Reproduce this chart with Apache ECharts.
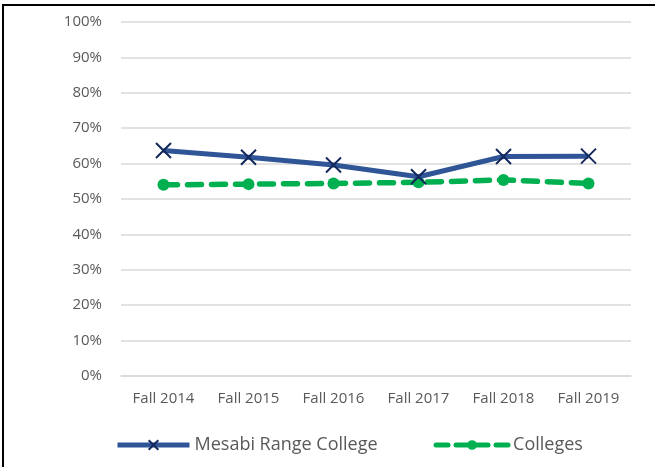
<!DOCTYPE html>
<html>
<head>
<meta charset="utf-8">
<script src="https://cdn.jsdelivr.net/npm/echarts@6/dist/echarts.min.js"></script>
<style>
  html, body { margin: 0; padding: 0; background: #fff; }
  #main { width: 655px; height: 467px; }
</style>
</head>
<body>
<div id="main"></div>
<script>
// categories and series values
var years = ['Fall 2014', 'Fall 2015', 'Fall 2016', 'Fall 2017', 'Fall 2018', 'Fall 2019'];
var mesabi = [0.637, 0.618, 0.596, 0.563, 0.620, 0.621];
var colleges = [0.540, 0.542, 0.544, 0.547, 0.554, 0.544];

var myChart = echarts.init(document.getElementById('main'));
var font = 'Open Sans';

var option = {
    animation: false,
    backgroundColor: '#fff',
    graphic: [{
        type: 'rect',
        shape: { x: 3, y: 5, width: 700, height: 500 },
        style: { fill: 'none', stroke: '#000', lineWidth: 2 }
    }],
    grid: { left: 121, right: 24, top: 22, bottom: 91 },
    legend: {
        bottom: 8,
        left: 110,
        itemWidth: 72,
        itemHeight: 12,
        itemGap: 56,
        itemTextGap: 7,
        textStyle: { fontFamily: font, fontSize: 18, color: '#595959' },
        data: [{
            name: 'Mesabi Range College',
            lineStyle: { width: 5 }
        }, {
            name: 'Colleges',
            lineStyle: { width: 5, type: [12, 8] }
        }]
    },
    xAxis: {
        type: 'category',
        data: years,
        axisTick: { show: false },
        axisLine: { lineStyle: { color: '#d9d9d9', width: 1.5 } },
        axisLabel: { fontFamily: font, fontSize: 15, color: '#595959', margin: 15 }
    },
    yAxis: {
        type: 'value',
        min: 0,
        max: 1,
        interval: 0.1,
        axisLine: { show: false },
        axisTick: { show: false },
        splitLine: { lineStyle: { color: '#d9d9d9', width: 1.5 } },
        axisLabel: {
            fontFamily: font, fontSize: 15, color: '#595959', margin: 19,
            formatter: function (v) { return Math.round(v * 100) + '%'; }
        }
    },
    series: [{
        name: 'Mesabi Range College',
        type: 'line',
        data: mesabi,
        symbol: 'path://M0,0L10,10M10,0L0,10',
        symbolSize: 15,
        lineStyle: { color: '#2F5597', width: 5 },
        itemStyle: { color: 'none', borderColor: '#12275C', borderWidth: 2 },
        z: 3
    }, {
        name: 'Colleges',
        type: 'line',
        data: colleges,
        symbol: 'circle',
        symbolSize: 12,
        lineStyle: { color: '#00B050', width: 5.5, type: [14, 10], cap: 'round' },
        itemStyle: { color: '#00B050' },
        z: 2
    }]
};
myChart.setOption(option);
</script>
</body>
</html>
